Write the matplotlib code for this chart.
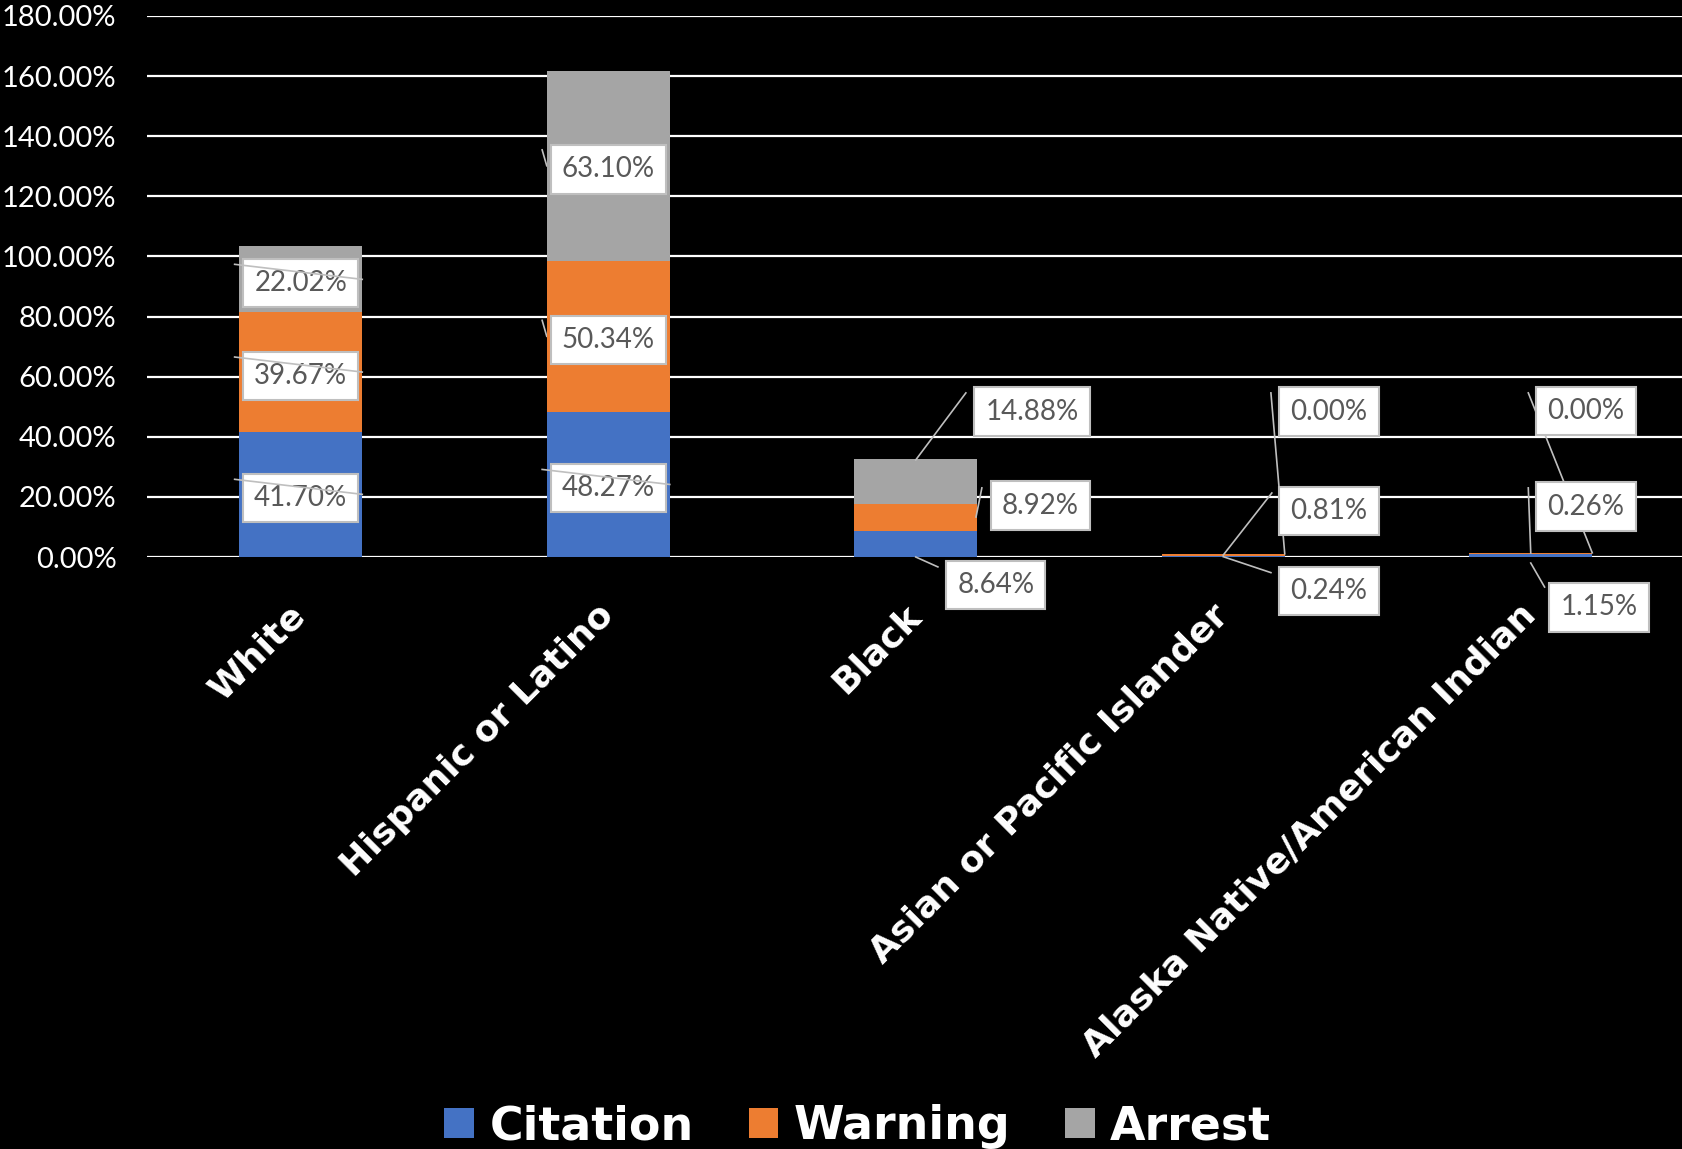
import matplotlib
matplotlib.use('Agg')
import matplotlib.pyplot as plt
import numpy as np


categories = ['White', 'Hispanic or Latino', 'Black',
              'Asian or Pacific Islander', 'Alaska Native/American Indian']
citation = [41.70, 48.27, 8.64, 0.24, 1.15]
warning = [39.67, 50.34, 8.92, 0.81, 0.26]
arrest = [22.02, 63.10, 14.88, 0.00, 0.00]
y_ticks = [0, 20, 40, 60, 80, 100, 120, 140, 160, 180]

series = [('Citation', citation, '#4472C4'),
          ('Warning', warning, '#ED7D31'),
          ('Arrest', arrest, '#A5A5A5')]

# where the data labels sit: None = centred in the segment,
# otherwise (dx from bar centre, y in axis units)
label_pos = {
    'Citation': [None, None, (0.26, -8.2), (0.344, -10.1), (0.222, -15.6)],
    'Warning': [None, None, (0.406, 18.3), (0.344, 16.6), (0.18, 18.0)],
    'Arrest': [None, None, (0.378, 49.6), (0.344, 49.6), (0.18, 49.9)],
}
# leader lines for the outside labels: (dx0, y0, dx1, y1)
leaders = {
    'Citation': [None, None, (0.0, 0.0, 0.072, -3.3), (0.0, 0.1, 0.155, -5.2), (0.0, -2.0, 0.045, -10.0)],
    'Warning': [None, None, (0.215, 23.0, 0.196, 13.3), (0.158, 21.3, 0.0, 0.65), (-0.008, 23.0, 0.0, 1.3)],
    'Arrest': [None, None, (0.163, 54.6, 0.0, 32.3), (0.155, 54.6, 0.2, 1.05), (-0.008, 54.6, 0.2, 1.4)],
}

label_font = 'Lato'
line_col = '#BFBFBF'

fig = plt.figure(figsize=(16.82, 11.49), dpi=100, facecolor='black')
ax = fig.add_axes([147 / 1682, 592 / 1149, 1537.5 / 1682, 541 / 1149])
ax.set_facecolor('black')

x = np.arange(len(categories))
width = 0.4
bottom = np.zeros(len(categories))
for name, vals, col in series:
    vals = np.array(vals)
    ax.bar(x, vals, width, bottom=bottom, color=col, label=name, zorder=3)
    for i, v in enumerate(vals):
        mid = bottom[i] + v / 2
        pos = label_pos[name][i]
        if pos is None:
            tx, ty = x[i], mid
            if name != 'Citation' and i == 1:
                # short tick just left of the bar
                ax.plot([x[i] - 0.215, x[i] - 0.2], [mid + 5.3, mid], color=line_col, lw=1.2, zorder=2)
            else:
                ax.plot([x[i] - 0.215, x[i] + 0.2], [mid + 5.0, mid], color=line_col, lw=1.2, zorder=6)
        else:
            tx, ty = x[i] + pos[0], pos[1]
            l = leaders[name][i]
            ax.plot([x[i] + l[0], x[i] + l[2]], [l[1], l[3]], color=line_col, lw=1.2, zorder=4, clip_on=False)
        ax.text(tx, ty - 1.2, '{:.2f}%'.format(v), ha='center', va='center', fontsize=20,
                family=label_font, color='#595959', zorder=5, clip_on=False,
                bbox=dict(boxstyle='square,pad=0.4', fc='white', ec=line_col, lw=1.5))
    bottom += vals

ax.set_xlim(-0.5, len(categories) - 0.5)
ax.set_ylim(0, 180)
ax.set_yticks(y_ticks)
ax.set_yticklabels(['{:.2f}%'.format(t) for t in y_ticks], family=label_font, fontsize=21, color='white')
ax.yaxis.grid(True, color='white', lw=1.6, zorder=0)
ax.set_axisbelow(True)
for s in ax.spines.values():
    s.set_visible(False)
ax.tick_params(axis='y', length=0, pad=22)
ax.tick_params(axis='x', length=0, pad=38)
ax.set_xticks(x)
ax.set_xticklabels(categories, rotation=45, ha='right', va='center', rotation_mode='anchor',
                   fontsize=26, fontweight='bold', family='DejaVu Sans', color='white')

fig.legend(loc='lower center', bbox_to_anchor=(0.51, -0.028), ncol=3, frameon=False,
           prop={'family': 'DejaVu Sans', 'weight': 'bold', 'size': 33},
           labelcolor='white', handlelength=0.65, handleheight=0.65,
           handletextpad=0.33, columnspacing=1.2, borderpad=0.2)

fig.savefig('out.png', dpi=100, facecolor='black')
